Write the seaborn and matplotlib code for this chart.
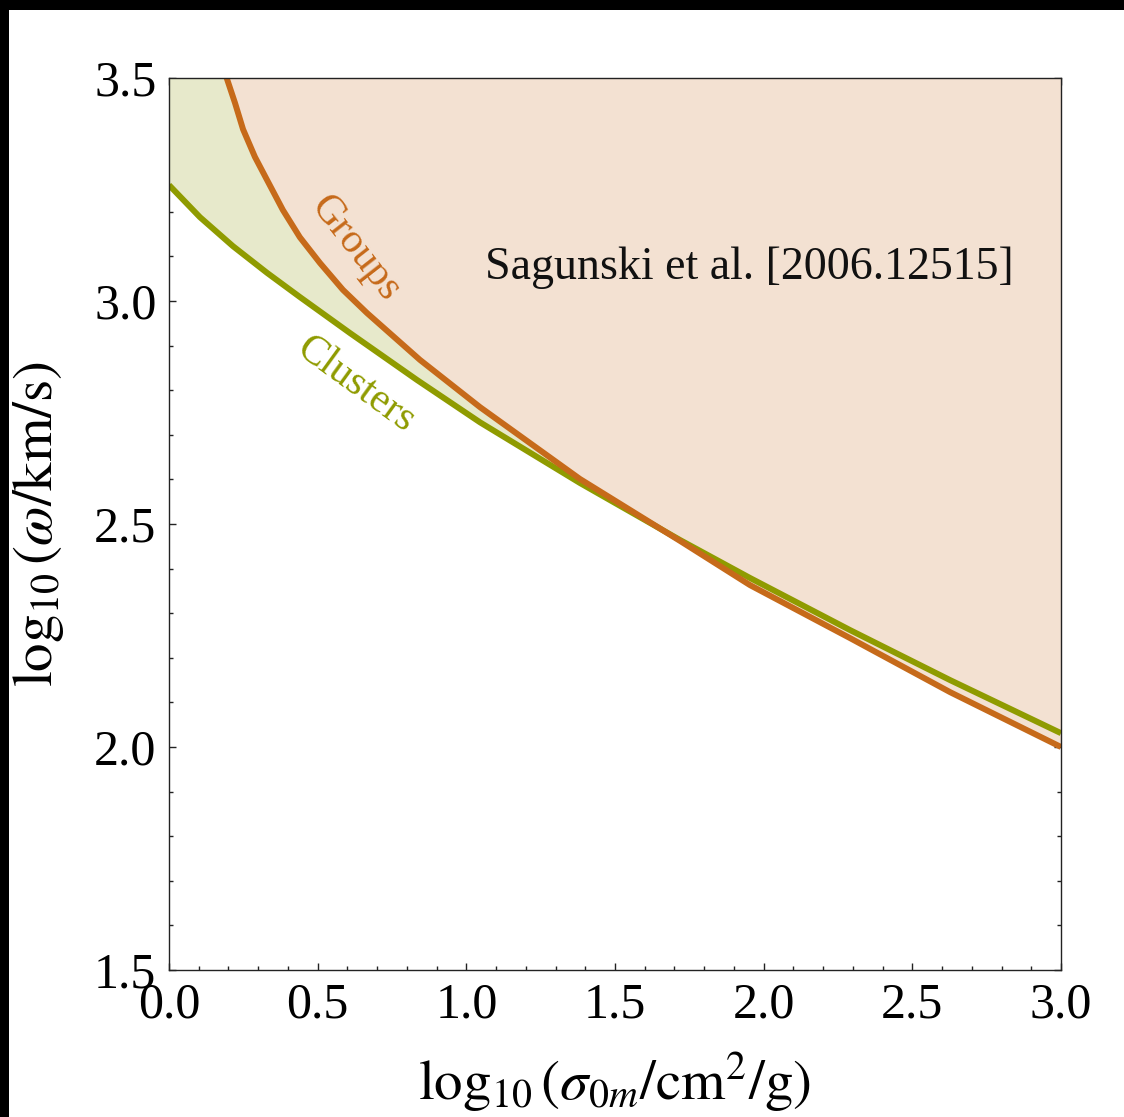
import numpy as np
import pandas as pd
import matplotlib
matplotlib.use("Agg")
import matplotlib.pyplot as plt
from matplotlib.ticker import MultipleLocator, FormatStrFormatter
from matplotlib.patches import Rectangle
import seaborn as sns

# ---- data ----
groups_x = [0.194, 0.222, 0.249, 0.289, 0.330, 0.383, 0.440, 0.508, 0.585, 0.666,
            0.844, 1.046, 1.382, 1.719, 1.954, 2.291, 2.627, 3.0]
groups_y = [3.500, 3.444, 3.385, 3.323, 3.271, 3.204, 3.143, 3.085, 3.025, 2.973,
            2.868, 2.762, 2.601, 2.462, 2.363, 2.244, 2.123, 2.000]

clusters_x = [0.0, 0.104, 0.215, 0.330, 0.440, 0.609, 0.834, 1.046, 1.382, 1.719,
              1.954, 2.291, 2.627, 3.0]
clusters_y = [3.260, 3.188, 3.123, 3.063, 3.009, 2.928, 2.823, 2.728, 2.592, 2.464,
              2.379, 2.262, 2.150, 2.031]

x_ticks = [0.0, 0.5, 1.0, 1.5, 2.0, 2.5, 3.0]
y_ticks = [1.5, 2.0, 2.5, 3.0, 3.5]

col_groups = "#c66a1a"
col_clusters = "#8f9b00"
fill_groups = "#f3e1d2"
fill_clusters = "#e7e9cb"

sns.set_style("ticks")
plt.rcParams["font.family"] = ["Liberation Serif", "DejaVu Serif"]
plt.rcParams["mathtext.fontset"] = "stix"

fig = plt.figure(figsize=(11.24, 11.17), dpi=100)
fig.patch.set_facecolor("black")
fig.add_artist(Rectangle((9 / 1124, 0), 1, 1 - 10 / 1117, transform=fig.transFigure,
                         facecolor="white", edgecolor="none", zorder=-10))

ax = fig.add_axes([169 / 1124, 1 - 970 / 1117, 892 / 1124, 892 / 1117])
ax.set_facecolor("white")

df_g = pd.DataFrame({"x": groups_x, "y": groups_y})
df_c = pd.DataFrame({"x": clusters_x, "y": clusters_y})

ax.fill_between(df_c["x"], df_c["y"], 3.5, color=fill_clusters, lw=0, zorder=1)
ax.fill_between(df_g["x"], df_g["y"], 3.5, color=fill_groups, lw=0, zorder=2)

sns.lineplot(data=df_c, x="x", y="y", ax=ax, color=col_clusters, lw=4.3, zorder=3, sort=False)
sns.lineplot(data=df_g, x="x", y="y", ax=ax, color=col_groups, lw=4.3, zorder=4, sort=False)
for ln in ax.lines:
    ln.set_solid_joinstyle("round")
    ln.set_solid_capstyle("butt")

ax.set_xlim(0, 3)
ax.set_ylim(1.5, 3.5)
ax.set_xticks(x_ticks)
ax.set_yticks(y_ticks)
ax.xaxis.set_minor_locator(MultipleLocator(0.1))
ax.yaxis.set_minor_locator(MultipleLocator(0.1))
ax.xaxis.set_major_formatter(FormatStrFormatter("%.1f"))
ax.yaxis.set_major_formatter(FormatStrFormatter("%.1f"))
ax.tick_params(which="both", direction="in", top=True, right=True, color="#222222", width=1.0)
ax.tick_params(which="major", length=5, labelsize=36, pad=9, labelcolor="black")
ax.tick_params(which="minor", length=3.2)
for s in ax.spines.values():
    s.set_color("#222222")
    s.set_linewidth(1.0)
    s.set_zorder(6)

ax.set_xlabel(r"$\log_{10}(\sigma_{0m}/\mathrm{cm}^2/\mathrm{g})$", fontsize=41, color="black")
ax.set_ylabel(r"$\log_{10}(\omega/\mathrm{km/s})$", fontsize=41, color="black")
ax.xaxis.set_label_coords(0.499, -0.090)
ax.yaxis.set_label_coords(-0.115, 0.5)

ax.text(1.063, 3.074, "Sagunski et al. [2006.12515]", fontsize=33, ha="left", va="center",
        color="#111111", zorder=7)
ax.text(0.627, 3.118, "Groups", fontsize=30, color=col_groups, rotation=-52,
        ha="center", va="center", rotation_mode="anchor", zorder=7)
ax.text(0.626, 2.812, "Clusters", fontsize=30, color=col_clusters, rotation=-36,
        ha="center", va="center", rotation_mode="anchor", zorder=7)

fig.savefig("out.png", dpi=100, facecolor=fig.get_facecolor())
